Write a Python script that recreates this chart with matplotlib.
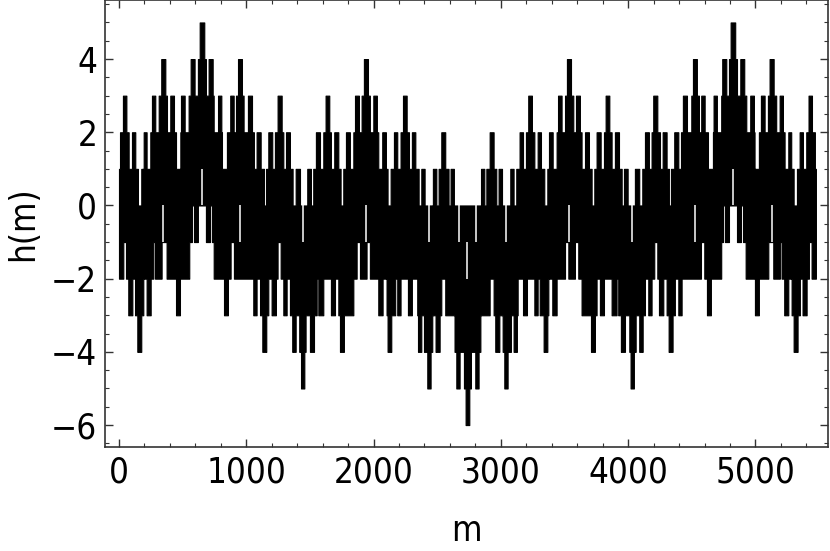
import matplotlib
matplotlib.use('Agg')
import numpy as np
import matplotlib.pyplot as plt
from matplotlib.ticker import MultipleLocator

# Upper envelope of h(m): step starts (m) and integer levels
top_m = [0, 8, 31, 58, 76, 102, 128, 149, 175, 194, 217, 246, 259, 285, 312, 332, 364, 377, 403, 432,
         448, 482, 487, 516, 547, 563, 594, 620, 634, 670, 683, 704, 736, 744, 778, 804, 809, 848, 874, 901,
         919, 935, 966, 979, 1013, 1045, 1060, 1081, 1113, 1139, 1155, 1173, 1204, 1225, 1246, 1278, 1291,
         1312, 1343, 1364, 1388, 1422, 1479, 1508, 1526, 1547, 1579, 1605, 1623, 1652, 1665, 1691, 1723,
         1741, 1762, 1783, 1814, 1841, 1854, 1885, 1906, 1924, 1956, 1971, 1998, 2026, 2037, 2068, 2097,
         2110, 2134, 2160, 2186, 2212, 2231, 2260, 2278, 2301, 2328, 2354, 2375, 2401, 2466, 2493, 2511,
         2532, 2563, 2589, 2605, 2631,
         2844, 2870, 2886, 2912, 2943, 2964, 2982, 3009, 3074, 3100, 3121, 3147, 3174, 3197, 3215, 3244,
         3263, 3289, 3315, 3341, 3365, 3378, 3407, 3438, 3449, 3477, 3504, 3519, 3551, 3569, 3590, 3621,
         3634, 3661, 3692, 3713, 3734, 3752, 3784, 3810, 3823, 3852, 3870, 3896, 3928, 3949, 3967, 3996,
         4053, 4087, 4111, 4132, 4163, 4184, 4197, 4229, 4250, 4271, 4302, 4320, 4336, 4362, 4394, 4415,
         4430, 4462, 4496, 4509, 4540, 4556, 4574, 4601, 4627, 4666, 4671, 4697, 4731, 4739, 4771, 4792,
         4805, 4841, 4855, 4881, 4912, 4928, 4959, 4988, 4993, 5027, 5043, 5072, 5098, 5111, 5143, 5163,
         5190, 5216, 5229, 5258, 5281, 5300, 5326, 5347, 5373, 5399, 5417, 5444, 5467]
top_h = [1, 2, 3, 2, 1, 2, 1, 0, 1, 2, 1, 2, 3, 2, 3, 4, 3, 2, 3, 2,
         1, 2, 3, 2, 3, 4, 3, 4, 5, 4, 3, 4, 3, 2, 3, 2, 1, 2, 3, 2,
         3, 4, 3, 2, 3, 2, 1, 2, 1, 0, 1, 2, 1, 2, 3, 2, 1,
         2, 1, 0, 1, 0, 1, 0, 1, 2, 1, 2, 3, 2, 1, 2, 1,
         0, 1, 2, 1, 2, 3, 2, 3, 4, 3, 2, 3, 2, 1, 2, 1,
         0, 1, 2, 1, 2, 3, 2, 1, 2, 1, 0, 1, 0, 1, 0, 1,
         2, 1, 0, 1, 0,
         1, 0, 1, 2, 1, 0, 1, 0, 1, 0, 1, 2, 1, 2, 3, 2,
         1, 2, 1, 0, 1, 2, 1, 2, 3, 2, 3, 4, 3, 2, 3, 2,
         1, 2, 1, 0, 1, 2, 1, 2, 3, 2, 1, 2, 1, 0, 1, 0,
         1, 0, 1, 2, 1, 2, 3, 2, 1, 2, 1, 0, 1, 2, 1, 2,
         3, 2, 3, 4, 3, 2, 3, 2, 1, 2, 3, 2, 3, 4, 3, 4,
         5, 4, 3, 4, 3, 2, 3, 2, 1, 2, 3, 2, 3, 4, 3, 2,
         3, 2, 1, 2, 1, 0, 1, 2, 1, 2, 3, 2, 1]

# Lower envelope of h(m)
bottom_m = [0, 34, 55, 73, 105, 126, 144, 175, 191, 217, 249, 270, 283, 335, 374, 448, 479, 552, 573, 589,
            620, 683, 715, 730, 744, 825, 856, 877, 903, 1055, 1081, 1108, 1126, 1157, 1173, 1199, 1233,
            1246, 1270, 1291, 1317, 1343, 1361, 1388, 1416, 1430, 1456, 1466, 1500, 1532, 1553, 1566, 1605,
            1665, 1697, 1723, 1736, 1767, 1841, 1867, 1893, 1945, 1971, 2037, 2071, 2102, 2110, 2139, 2170,
            2186, 2212, 2270, 2301, 2343, 2349, 2375, 2396, 2422, 2448, 2461, 2487, 2519, 2532, 2563, 2636,
            2650, 2676, 2710, 2723,
            2752, 2765, 2799, 2825, 2839, 2912, 2943, 2956, 2988, 3014, 3027, 3053, 3079, 3100, 3126, 3132,
            3174, 3205, 3263, 3289, 3305, 3336, 3365, 3373, 3404, 3438, 3504, 3530, 3582, 3608, 3634, 3708,
            3739, 3752, 3778, 3810, 3870, 3909, 3922, 3943, 3975, 4009, 4019, 4045, 4059, 4087, 4114, 4132,
            4158, 4184, 4205, 4229, 4242, 4276, 4302, 4318, 4349, 4367, 4394, 4420, 4572, 4598, 4619, 4650,
            4731, 4745, 4760, 4792, 4855, 4886, 4902, 4923, 4996, 5027, 5101, 5140, 5192, 5205, 5226, 5258,
            5284, 5300, 5331, 5349, 5370, 5402, 5420, 5441]
bottom_h = [-2, -1, -2, -3, -2, -3, -4, -3, -2, -3, -2, -1, -2, -1, -2, -3, -2, -1, 0, -1,
            0, -1, 0, -1, -2, -3, -2, -1, -2, -3, -2, -3, -4, -3, -2, -3, -2,
            -1, -2, -3, -2, -3, -4, -3, -4, -5, -4, -3, -4, -3, -2, -3, -2,
            -3, -2, -3, -4, -3, -2, -1, -2, -1, -2, -3, -2, -3, -4, -3, -2,
            -3, -2, -3, -2, -3, -4, -3, -4, -5, -4, -3, -4, -3, -2, -3, -4,
            -5, -4, -5, -6,
            -5, -4, -5, -4, -3, -2, -3, -4, -3, -4, -5, -4, -3, -4, -3, -2,
            -3, -2, -3, -2, -3, -4, -3, -2, -3, -2, -1, -2, -1, -2, -3, -4,
            -3, -2, -3, -2, -3, -2, -3, -4, -3, -4, -5, -4, -3, -4, -3, -2,
            -3, -2, -1, -2, -3, -2, -3, -4, -3, -2, -3, -2, -1, -2, -3, -2,
            -1, 0, -1, 0, -1, 0, -1, -2, -3, -2, -1, -2, -1, -2, -3, -2,
            -3, -4, -3, -2, -3, -2, -1, -2]
m_end = 5475

# Thin unvisited slits inside the band (m, from level, to level)
gap_m = [346, 650, 950, 1443, 1938, 2433, 2668, 2735, 2807, 3040, 3533, 4027, 4525, 4825, 5127]
gap_lo = [-1, 0, -1, -1, -1, -1, -1, -2, -1, -1, -1, -1, -1, 0, -1]
gap_hi = [0, 1, 0, 0, 0, 0, 0, -1, 0, 0, 0, 0, 0, 1, 0]

x_ticks = [0, 1000, 2000, 3000, 4000, 5000]
y_ticks = [-6, -4, -2, 0, 2, 4]

plt.rcParams['font.family'] = ['DejaVu Sans']
FS = 25

# common step grid for both envelopes
edges = np.array(sorted(set(top_m + bottom_m + [m_end])), dtype=float)
hi = np.array(top_h, dtype=float)[np.searchsorted(top_m, edges, side='right') - 1]
lo = np.array(bottom_h, dtype=float)[np.searchsorted(bottom_m, edges, side='right') - 1]

fig = plt.figure(figsize=(8.3, 5.51), dpi=100)
ax = fig.add_axes([0.1271, 0.1887, 0.8705, 0.8104])

ax.fill_between(edges, lo, hi, step='post', facecolor='black',
                edgecolor='black', lw=0.8)
ax.vlines(gap_m, gap_lo, gap_hi, colors='white', lw=1.1)

ax.set_xlim(-106, 5570)
ax.set_ylim(-6.6, 5.6)
ax.set_xticks(x_ticks)
ax.set_yticks(y_ticks)
ax.xaxis.set_minor_locator(MultipleLocator(200))
ax.yaxis.set_minor_locator(MultipleLocator(0.5))
ax.tick_params(which='both', direction='in', top=True, right=True,
               labelsize=FS, pad=6, color='#333333')
ax.tick_params(which='major', length=6, width=1.0)
ax.tick_params(which='minor', length=3, width=0.8)
for s in ax.spines.values():
    s.set_linewidth(1.2)
    s.set_color('#333333')
for lbl in ax.get_xticklabels() + ax.get_yticklabels():
    lbl.set_fontstretch('condensed')

ax.set_xlabel('m', fontsize=FS, labelpad=18, fontstretch='condensed')
ax.set_ylabel('h(m)', fontsize=FS, labelpad=8, fontstretch='condensed')

fig.savefig('out.png', dpi=100)
